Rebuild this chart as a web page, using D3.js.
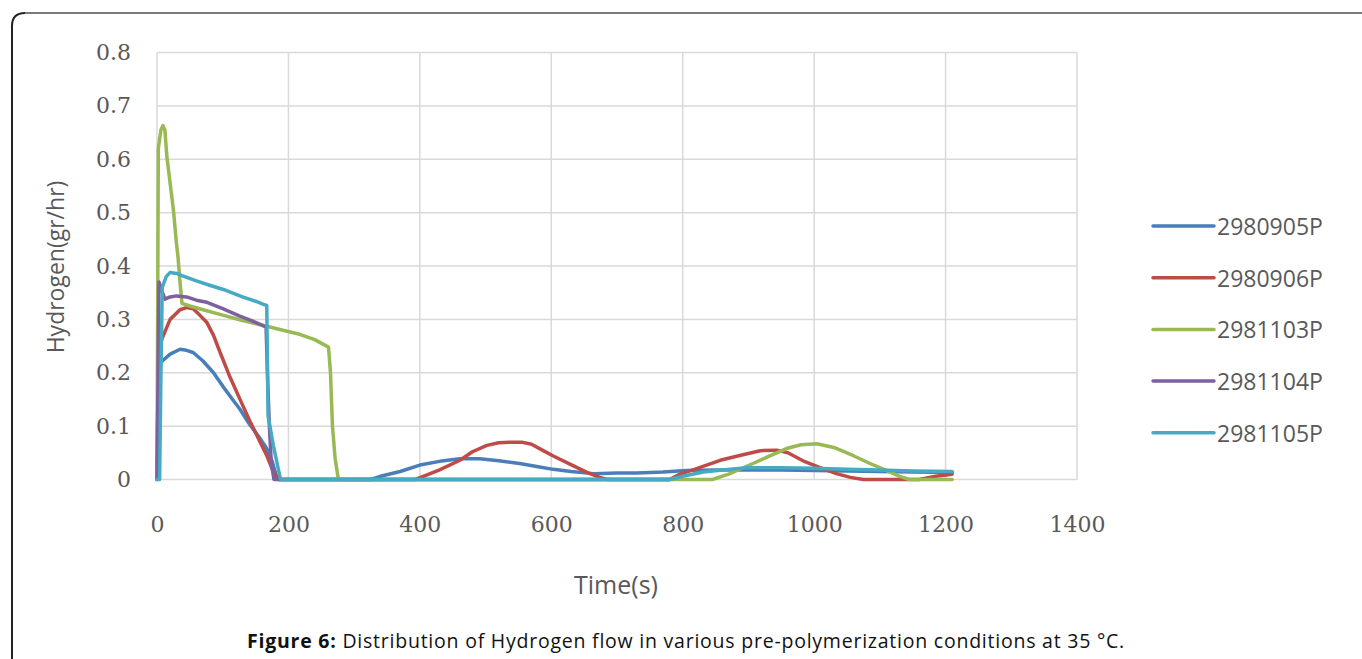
<!DOCTYPE html>
<html>
<head>
<meta charset="utf-8">
<script src="https://cdn.jsdelivr.net/npm/d3@7"></script>
<style>
  body { margin: 0; background: #fff; }
  svg { display: block; }
</style>
</head>
<body>
<svg width="1362" height="659"></svg>
<script>
var svg = d3.select('svg')

// series: [time (s), hydrogen (gr/hr)]
var s2980905P = [
  [0, 0], [3, 0.215], [8, 0.222], [20, 0.235], [35, 0.244], [45, 0.242], [55, 0.238],
  [70, 0.222], [86, 0.2], [100, 0.175], [115, 0.15], [126, 0.132], [140, 0.105],
  [155, 0.08], [167, 0.058], [175, 0.035], [182, 0.005], [186, 0], [325, 0],
  [340, 0.006], [370, 0.015], [400, 0.027], [430, 0.034], [461, 0.039], [491, 0.039],
  [520, 0.035], [552, 0.03], [580, 0.024], [603, 0.019], [630, 0.015], [664, 0.011],
  [700, 0.012], [730, 0.012], [770, 0.014], [806, 0.017], [850, 0.018], [907, 0.018],
  [950, 0.018], [1000, 0.017], [1050, 0.016], [1100, 0.015], [1150, 0.014], [1210, 0.013]
]
var s2980906P = [
  [0, 0], [2, 0.24], [8, 0.265], [20, 0.3], [35, 0.318], [45, 0.322], [55, 0.32],
  [65, 0.308], [76, 0.294], [86, 0.27], [96, 0.238], [110, 0.195], [126, 0.151],
  [140, 0.113], [157, 0.07], [167, 0.045], [177, 0.015], [185, 0], [393, 0],
  [410, 0.008], [430, 0.018], [461, 0.036], [480, 0.052], [502, 0.064], [520, 0.069],
  [540, 0.07], [555, 0.07], [570, 0.066], [585, 0.056], [603, 0.044], [630, 0.028],
  [655, 0.013], [674, 0.004], [685, 0], [780, 0], [796, 0.01], [820, 0.02],
  [857, 0.036], [890, 0.046], [918, 0.054], [943, 0.055], [960, 0.05], [983, 0.035],
  [1010, 0.022], [1034, 0.011], [1055, 0.004], [1075, 0], [1160, 0], [1185, 0.006],
  [1210, 0.01]
]
var s2981103P = [
  [0, 0], [2, 0.62], [6, 0.655], [9, 0.663], [12, 0.655], [15, 0.605], [20, 0.555],
  [25, 0.505], [29, 0.45], [32, 0.416], [35, 0.37], [38, 0.33], [50, 0.325],
  [70, 0.318], [100, 0.308], [130, 0.298], [167, 0.287], [190, 0.28], [217, 0.272],
  [240, 0.262], [261, 0.248], [264, 0.2], [267, 0.1], [271, 0.04], [276, 0],
  [845, 0], [870, 0.01], [907, 0.03], [930, 0.043], [958, 0.058], [980, 0.065],
  [1004, 0.067], [1030, 0.06], [1059, 0.045], [1085, 0.03], [1110, 0.017],
  [1130, 0.006], [1145, 0], [1210, 0]
]
var s2981104P = [
  [0, 0], [3, 0.37], [7, 0.355], [12, 0.338], [20, 0.342], [30, 0.344], [45, 0.342],
  [60, 0.336], [76, 0.332], [100, 0.32], [126, 0.306], [145, 0.297], [162, 0.288],
  [166, 0.286], [168, 0.2], [171, 0.1], [174, 0.03], [178, 0], [780, 0]
]
var s2981105P = [
  [0, 0], [4, 0], [6, 0.2], [8, 0.36], [14, 0.38], [20, 0.388], [30, 0.386],
  [38, 0.382], [60, 0.372], [80, 0.364], [101, 0.356], [130, 0.342], [150, 0.334],
  [162, 0.328], [167, 0.326], [169, 0.12], [177, 0.064], [188, 0], [780, 0],
  [800, 0.006], [831, 0.014], [860, 0.018], [897, 0.022], [950, 0.022], [1000, 0.021],
  [1050, 0.019], [1100, 0.018], [1150, 0.016], [1210, 0.015]
]

var seriesNames = ['2980905P', '2980906P', '2981103P', '2981104P', '2981105P']
var seriesData = [s2980905P, s2980906P, s2981103P, s2981104P, s2981105P]
var colors = ['#4a7ebb', '#be4b48', '#98b954', '#7d60a0', '#46aac5']

var xTicks = [0, 200, 400, 600, 800, 1000, 1200, 1400]
var yTicks = [0, 0.1, 0.2, 0.3, 0.4, 0.5, 0.6, 0.7, 0.8]

var x = d3.scaleLinear().domain([0, 1400]).range([157, 1077])
var y = d3.scaleLinear().domain([0, 0.8]).range([479.5, 52.5])

// frame round the figure
svg.append('path')
  .attr('d', 'M12,659 V26 Q12,13 25,13')
  .attr('fill', 'none').attr('stroke', '#222').attr('stroke-width', 2)
svg.append('path')
  .attr('d', 'M25,13 H1362')
  .attr('fill', 'none').attr('stroke', '#7a7a7a').attr('stroke-width', 2)

// gridlines
var grid = svg.append('g')
grid.selectAll('.hg').data(yTicks).enter().append('line')
  .attr('x1', x(0)).attr('x2', x(1400))
  .attr('y1', d => y(d)).attr('y2', d => y(d))
  .attr('stroke', '#d9d9d9').attr('stroke-width', 1.5)
grid.selectAll('.vg').data(xTicks).enter().append('line')
  .attr('x1', d => x(d)).attr('x2', d => x(d))
  .attr('y1', y(0)).attr('y2', y(0.8))
  .attr('stroke', '#d9d9d9').attr('stroke-width', 1.5)

// axes (labels only, Excel style)
var yAxis = d3.axisLeft(y).tickValues(yTicks).tickSize(0).tickPadding(0)
  .tickFormat(d => d === 0 ? '0' : d3.format('.1f')(d))
var gy = svg.append('g').attr('transform', 'translate(131,0)').call(yAxis)
gy.select('.domain').remove()
gy.selectAll('text')
  .attr('font-family', 'DejaVu Serif').attr('font-size', 22).attr('fill', '#595959')

var xAxis = d3.axisBottom(x).tickValues(xTicks).tickSize(0).tickPadding(0)
  .tickFormat(d3.format('d'))
var gx = svg.append('g').attr('transform', 'translate(0,516)').call(xAxis)
gx.select('.domain').remove()
gx.selectAll('text')
  .attr('font-family', 'DejaVu Serif').attr('font-size', 22).attr('fill', '#595959')

// lines
var line = d3.line().x(d => x(d[0])).y(d => y(d[1]))
svg.append('g').selectAll('path').data(seriesData).enter().append('path')
  .attr('d', line)
  .attr('fill', 'none')
  .attr('stroke', (d, i) => colors[i])
  .attr('stroke-width', 3.5)
  .attr('stroke-linejoin', 'round')
  .attr('stroke-linecap', 'round')

// axis titles
svg.append('text')
  .attr('transform', 'translate(64,267) rotate(-90)')
  .attr('text-anchor', 'middle')
  .attr('font-family', 'Open Sans').attr('font-size', 23).attr('fill', '#595959')
  .text('Hydrogen(gr/hr)')
svg.append('text')
  .attr('x', 616).attr('y', 594)
  .attr('text-anchor', 'middle')
  .attr('font-family', 'Open Sans').attr('font-size', 25).attr('fill', '#595959')
  .text('Time(s)')

// legend
var legend = svg.append('g').selectAll('g').data(seriesNames).enter().append('g')
  .attr('transform', (d, i) => 'translate(0,' + (226 + i * 51.7) + ')')
legend.append('line')
  .attr('x1', 1153).attr('x2', 1214).attr('y1', 0).attr('y2', 0)
  .attr('stroke', (d, i) => colors[i]).attr('stroke-width', 3.5)
  .attr('stroke-linecap', 'round')
legend.append('text')
  .attr('x', 1217).attr('y', 9)
  .attr('font-family', 'Open Sans').attr('font-size', 23).attr('fill', '#595959')
  .text(d => d)

// caption
var cap = svg.append('text')
  .attr('x', 686).attr('y', 648)
  .attr('text-anchor', 'middle')
  .attr('font-family', 'Open Sans').attr('font-size', 19.5).attr('fill', '#111')
cap.append('tspan').attr('font-weight', 'bold').text('Figure 6:')
cap.append('tspan').text(' Distribution of Hydrogen flow in various pre-polymerization conditions at 35 °C.')
// stretch to the printed width
var capLen = cap.node().getComputedTextLength()
var nChars = cap.text().length
cap.attr('letter-spacing', (878 - capLen) / nChars)
</script>
</body>
</html>
